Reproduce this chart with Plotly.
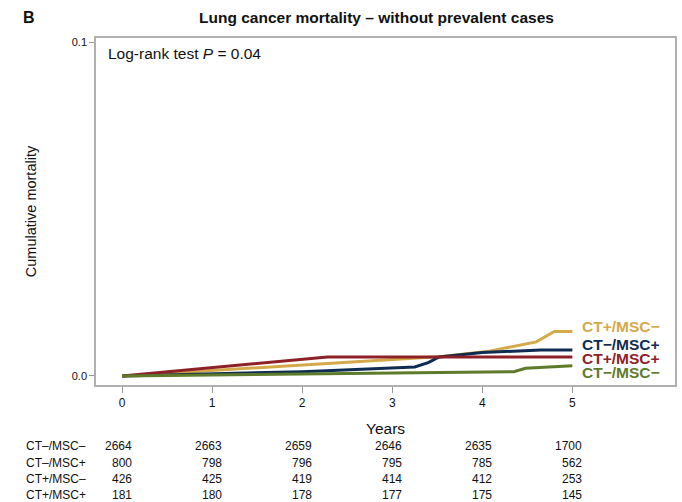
import plotly.graph_objects as go

# ---- data ----
groups = ["CT+/MSC−", "CT−/MSC+", "CT+/MSC+", "CT−/MSC−"]
colors = ["#D3A94A", "#0E2C52", "#8E2127", "#5E7B2C"]

gold_x = [0, 3.0, 3.55, 4.05, 4.6, 4.8, 5.0]
gold_y = [0, 0.0050, 0.0058, 0.0073, 0.0102, 0.0133, 0.0133]
navy_x = [0, 2.0, 3.25, 3.4, 3.52, 4.0, 4.65, 5.0]
navy_y = [0, 0.0013, 0.0027, 0.0040, 0.0057, 0.0070, 0.0078, 0.0078]
red_x = [0, 2.28, 5.0]
red_y = [0, 0.0057, 0.0057]
green_x = [0, 3.0, 4.35, 4.48, 5.0]
green_y = [0, 0.0008, 0.0013, 0.0023, 0.0031]
series_x = [gold_x, navy_x, red_x, green_x]
series_y = [gold_y, navy_y, red_y, green_y]

label_y_offsets = [326, 344, 358, 372]  # pixel rows of end labels

risk_groups = ["CT–/MSC–", "CT–/MSC+", "CT+/MSC–", "CT+/MSC+"]
risk_years = [0, 1, 2, 3, 4, 5]
risk_table = [
    [2664, 2663, 2659, 2646, 2635, 1700],
    [800, 798, 796, 795, 785, 562],
    [426, 425, 419, 414, 412, 253],
    [181, 180, 178, 177, 175, 145],
]
risk_rows_px = [446, 463, 479, 495]

FONT = "Liberation Sans, Arial, sans-serif"
W, H = 682, 502
ML, MR, MT, MB = 96, 5, 38, 117
plot_h = H - MT - MB
y0_range, y1_range = -0.0027, 0.1012


def py(pix):
    return (H - MB - pix) / plot_h


def yval(pix):
    return y0_range + (H - MB - pix) / plot_h * (y1_range - y0_range)


fig = go.Figure()
for g, c, xs, ys in zip(groups, colors, series_x, series_y):
    fig.add_trace(go.Scatter(x=xs, y=ys, mode="lines", name=g,
                             line=dict(color=c, width=3), showlegend=False,
                             hoverinfo="skip"))

ann = []
for g, c, pix in zip(groups, colors, label_y_offsets):
    ann.append(dict(x=5.08, y=yval(pix), xref="x", yref="y", text=g,
                    showarrow=False, xanchor="left", yanchor="middle",
                    font=dict(family=FONT, size=15.5, color=c, weight="bold")))

ann.append(dict(x=0.017, y=0.985, xref="paper", yref="paper",
                text="Log-rank test <i>P</i> = 0.04", showarrow=False,
                xanchor="left", yanchor="top",
                font=dict(family=FONT, size=15.5, color="#111")))

ann.append(dict(x=-0.115, y=py(17), xref="paper", yref="paper", text="<b>B</b>",
                showarrow=False, xanchor="center", yanchor="middle",
                font=dict(family=FONT, size=16, color="#111")))

ann.append(dict(x=0.5, y=py(428), xref="paper", yref="paper", text="Years",
                showarrow=False, xanchor="center", yanchor="middle",
                font=dict(family=FONT, size=15.5, color="#111")))

for rg, row, pix in zip(risk_groups, risk_table, risk_rows_px):
    ann.append(dict(x=(24 - ML) / (W - ML - MR), y=py(pix), xref="paper", yref="paper",
                    text=rg, showarrow=False, xanchor="left", yanchor="middle",
                    font=dict(family=FONT, size=12, color="#111")))
    for yr, v in zip(risk_years, row):
        ann.append(dict(x=yr + 0.13, y=py(pix), xref="x", yref="paper",
                        text=str(v), showarrow=False, xanchor="right", yanchor="middle",
                        font=dict(family=FONT, size=12, color="#111")))

fig.update_layout(
    width=W, height=H,
    margin=dict(l=ML, r=MR, t=MT, b=MB),
    paper_bgcolor="white", plot_bgcolor="white",
    title=dict(text="<b>Lung cancer mortality – without prevalent cases</b>",
               x=0.552, xanchor="center", y=1 - 18 / H, yanchor="middle",
               font=dict(family=FONT, size=15.5, color="#111")),
    annotations=ann,
    xaxis=dict(range=[-0.29, 6.14], tickvals=risk_years, ticks="outside",
               ticklen=6, tickcolor="#999", showline=True, linecolor="#B0B0B0",
               linewidth=1.5, mirror=True, showgrid=False, zeroline=False,
               tickfont=dict(family=FONT, size=12, color="#111")),
    yaxis=dict(range=[y0_range, y1_range], tickvals=[0, 0.1], tickformat=".1f",
               ticks="outside", ticklen=5, tickcolor="#999", showline=True,
               linecolor="#B0B0B0", linewidth=1.5, mirror=True, showgrid=False,
               zeroline=False, tickfont=dict(family=FONT, size=11, color="#111"),
               title=dict(text="Cumulative mortality", standoff=32,
                          font=dict(family=FONT, size=14.5, color="#111"))),
)

fig.write_html("out.html")
